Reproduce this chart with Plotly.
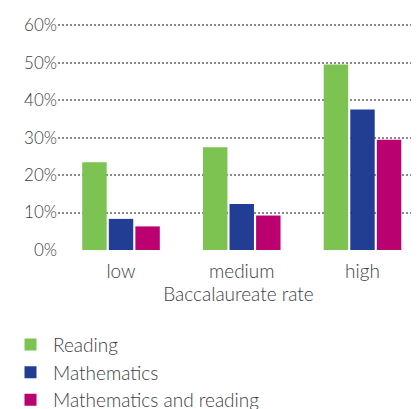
import plotly.graph_objects as go

categories = ["low", "medium", "high"]
reading = [23.4, 27.4, 49.5]
mathematics = [8.3, 12.3, 37.5]
math_and_reading = [6.3, 9.2, 29.4]
series_names = ["Reading", "Mathematics", "Mathematics and reading"]
colors = ["#7DC352", "#223E94", "#BB0070"]
y_ticks = [0, 10, 20, 30, 40, 50, 60]
y_tick_labels = ["0%", "10%", "20%", "30%", "40%", "50%", "60%"]

fig = go.Figure()
for i, (name, vals, col) in enumerate(zip(series_names, [reading, mathematics, math_and_reading], colors)):
    fig.add_trace(go.Bar(x=categories, y=vals, name=name, legendgroup=f"g{i}",
                         marker=dict(color=col, line=dict(width=0))))

font_family = "Lato, 'Open Sans', sans-serif"
text_color = "#404040"
# page body adds an 8px offset, so the figure is 8px smaller in each direction
fig.update_layout(
    width=411, height=401,
    margin=dict(l=50, r=0, t=16, b=159, autoexpand=False),
    paper_bgcolor="white", plot_bgcolor="white",
    barmode="group", bargap=0.34, bargroupgap=0.08,
    font=dict(family=font_family, size=19, color=text_color, weight=300),
    showlegend=True,
    legend=dict(orientation="v", xref="container", yref="container",
                x=0.0, xanchor="left", y=0.208, yanchor="top",
                font=dict(size=19, color=text_color, weight=300), tracegroupgap=0, itemwidth=35),
    xaxis=dict(range=[-0.522, 2.468], showline=False, ticks="", showgrid=False,
               automargin=False, ticklabelstandoff=8,
               tickfont=dict(size=19, weight=300),
               title=dict(text="Baccalaureate rate", font=dict(size=19, weight=300), standoff=0)),
    yaxis=dict(range=[0, 60.3], tickvals=y_ticks, ticktext=y_tick_labels, showline=False,
               automargin=False,
               showgrid=True, gridcolor="#8a8a8a", gridwidth=1.5, griddash="1.5px,2.5px",
               zeroline=False, tickfont=dict(size=17, weight=300), ticks=""),
)
fig.write_html("out.html")
